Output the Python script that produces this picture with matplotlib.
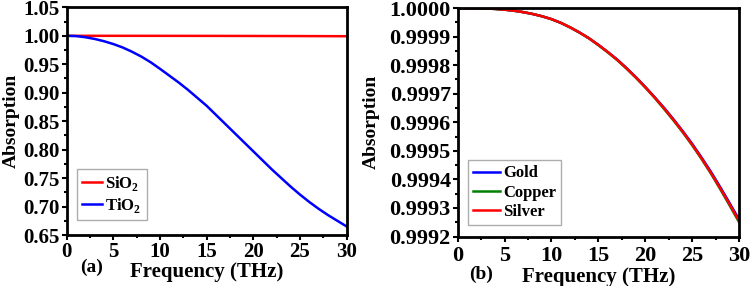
import matplotlib
matplotlib.use('Agg')
import matplotlib.pyplot as plt
from matplotlib.ticker import MultipleLocator, FormatStrFormatter

plt.rcParams['font.family'] = 'Liberation Serif'
plt.rcParams['font.weight'] = 'bold'
plt.rcParams['mathtext.fontset'] = 'custom'
plt.rcParams['mathtext.bf'] = 'Liberation Serif:bold'
plt.rcParams['mathtext.rm'] = 'Liberation Serif:bold'

# frequency grid (THz)
freq = list(range(31))

# panel (a): dielectric layers
tio2 = [1.000, 0.9995, 0.9975, 0.9945, 0.9905, 0.9855, 0.9795, 0.972, 0.9635, 0.9535,
        0.942, 0.930, 0.918, 0.905, 0.891, 0.877, 0.861, 0.845, 0.829, 0.813,
        0.797, 0.781, 0.765, 0.750, 0.735, 0.721, 0.708, 0.696, 0.685, 0.675, 0.665]
sio2_freq = [0, 5, 10, 15, 20, 25, 30]
sio2 = [1.0, 0.99999, 0.99995, 0.99987, 0.99972, 0.99954, 0.99925]

# panel (b): metals
silver = [1.0000000, 0.9999999, 0.9999995, 0.9999985, 0.9999968, 0.9999942, 0.9999905,
          0.9999855, 0.999979, 0.999971, 0.999961, 0.999948, 0.999932, 0.999914, 0.999894,
          0.999871, 0.999846, 0.999819, 0.999789, 0.999757, 0.999723, 0.999687, 0.999649,
          0.999609, 0.999567, 0.999522, 0.999474, 0.999423, 0.999369, 0.999313, 0.999255]
gold = [1.0000000, 0.9999999, 0.9999995, 0.9999985, 0.9999968, 0.9999942, 0.9999905,
        0.9999855, 0.999979, 0.999971, 0.999961, 0.999948, 0.999932, 0.999914, 0.999894,
        0.999871, 0.999846, 0.999820, 0.999790, 0.999758, 0.999724, 0.999688, 0.999651,
        0.999611, 0.999569, 0.999525, 0.999477, 0.999427, 0.999373, 0.999317, 0.999260]
copper = [1.0000000, 0.9999999, 0.9999995, 0.9999985, 0.9999968, 0.9999942, 0.9999905,
          0.9999855, 0.999979, 0.999971, 0.999961, 0.999948, 0.999932, 0.999914, 0.999894,
          0.999870, 0.999845, 0.999818, 0.999788, 0.999756, 0.999722, 0.999686, 0.999647,
          0.999607, 0.999565, 0.999520, 0.999472, 0.999421, 0.999366, 0.999309, 0.999251]

fig = plt.figure(figsize=(7.5, 2.86), dpi=100)
ax1 = fig.add_axes([0.0889, 0.1783, 0.3733, 0.796])
ax2 = fig.add_axes([0.6103, 0.173, 0.375, 0.799])


def style(ax, tick_size, xpad):
    for s in ax.spines.values():
        s.set_linewidth(2)
    ax.tick_params(which='both', direction='out', width=1.5, top=False, right=False)
    ax.tick_params(which='major', length=3.5, labelsize=tick_size)
    ax.tick_params(which='minor', length=2)
    ax.tick_params(axis='x', pad=xpad)
    ax.tick_params(axis='y', pad=1.5)
    ax.xaxis.set_major_locator(MultipleLocator(5))
    ax.xaxis.set_minor_locator(MultipleLocator(2.5))
    ax.set_xlim(0, 30)


# (a)
ax1.plot(sio2_freq, sio2, color='#ff0000', lw=1.8, label=r'SiO$_\mathbf{2}$')
ax1.plot(freq, tio2, color='#0000ff', lw=1.8, label=r'TiO$_\mathbf{2}$')
ax1.set_ylim(0.65, 1.05)
ax1.yaxis.set_major_locator(MultipleLocator(0.05))
ax1.yaxis.set_minor_locator(MultipleLocator(0.025))
ax1.yaxis.set_major_formatter(FormatStrFormatter('%.2f'))
style(ax1, 15, 1.5)
ax1.set_xlabel('Frequency (THz)', fontsize=15, fontweight='bold')
ax1.set_ylabel('Absorption', fontsize=14, fontweight='bold')
ax1.xaxis.set_label_coords(0.5, -0.117)
ax1.yaxis.set_label_coords(-0.168, 0.5)
leg1 = ax1.legend(loc='lower left', bbox_to_anchor=(0.037, 0.066), borderaxespad=0,
                  fontsize=12, handlelength=1.2, handletextpad=0.2, labelspacing=0.2,
                  borderpad=0.3, fancybox=False, edgecolor='#999999')
leg1.get_frame().set_linewidth(1)

# (b)
ax2.plot(freq, gold, color='#0000ff', lw=1.8, label='Gold')
ax2.plot(freq, copper, color='#008000', lw=1.8, label='Copper')
ax2.plot(freq, silver, color='#ff0000', lw=1.8, label='Silver')
ax2.set_ylim(0.9992, 1.0)
ax2.yaxis.set_major_locator(MultipleLocator(0.0001))
ax2.yaxis.set_minor_locator(MultipleLocator(0.00005))
ax2.yaxis.set_major_formatter(FormatStrFormatter('%.4f'))
style(ax2, 16, 3)
ax2.set_xlabel('Frequency (THz)', fontsize=15, fontweight='bold')
ax2.set_ylabel('Absorption', fontsize=14, fontweight='bold')
ax2.xaxis.set_label_coords(0.5, -0.135)
ax2.yaxis.set_label_coords(-0.276, 0.5)
leg2 = ax2.legend(loc='lower left', bbox_to_anchor=(0.038, 0.05), borderaxespad=0,
                  fontsize=12, handlelength=1.6, handletextpad=0.2, labelspacing=0.2,
                  borderpad=0.3, fancybox=False, edgecolor='#999999')
leg2.get_frame().set_linewidth(1)

fig.text(0.122, 0.066, '(a)', fontsize=14, fontweight='bold', ha='center', va='center')
fig.text(0.641, 0.042, '(b)', fontsize=14, fontweight='bold', ha='center', va='center')

fig.savefig('out.png', dpi=100)
